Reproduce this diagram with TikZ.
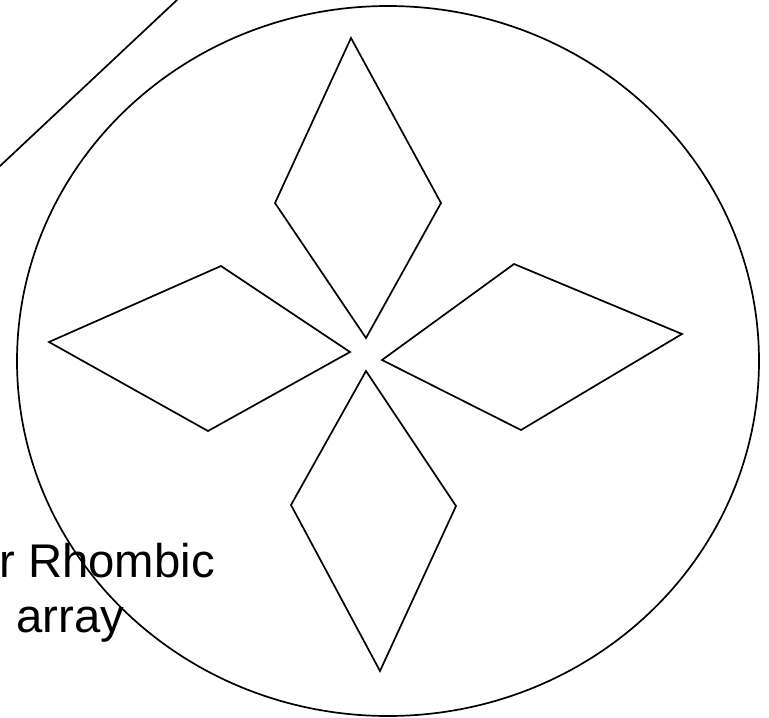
\documentclass[tikz,border=0pt]{standalone}
\usepackage{fontspec}
\setmainfont{Liberation Sans}
\begin{document}
\begin{tikzpicture}[x=1pt,y=-1pt,
  shape line/.style={draw=black,line width=1.7pt,line join=miter},
  label text/.style={inner sep=0pt,font=\fontsize{47.3}{57}\selectfont}]
\useasboundingbox (0,0) rectangle (769,718);
% diagonal line
\coordinate (l1) at (-10,175.4);
\coordinate (l2) at (187,-9.4);
\draw[shape line] (l1) -- (l2);
% outer ellipse
\draw[shape line] (388,361) ellipse [x radius=371, y radius=355];
% top rhombus
\coordinate (t1) at (351,38);
\coordinate (t2) at (441,203);
\coordinate (t3) at (366,338);
\coordinate (t4) at (275,203);
\draw[shape line] (t1) -- (t2) -- (t3) -- (t4) -- cycle;
% left rhombus
\coordinate (a1) at (49,342);
\coordinate (a2) at (221,266);
\coordinate (a3) at (350,352);
\coordinate (a4) at (208,431);
\draw[shape line] (a1) -- (a2) -- (a3) -- (a4) -- cycle;
% right rhombus
\coordinate (r1) at (382,360);
\coordinate (r2) at (514,264);
\coordinate (r3) at (682,334);
\coordinate (r4) at (521,430);
\draw[shape line] (r1) -- (r2) -- (r3) -- (r4) -- cycle;
% bottom rhombus
\coordinate (b1) at (366,371);
\coordinate (b2) at (456,506);
\coordinate (b3) at (380,671);
\coordinate (b4) at (291,505);
\draw[shape line] (b1) -- (b2) -- (b3) -- (b4) -- cycle;
% label
\node[label text,anchor=base west] (lab1) at (-1,577) {r Rhombic};
\node[label text,anchor=base west] (lab2) at (16.3,632) {array};
\end{tikzpicture}
\end{document}
